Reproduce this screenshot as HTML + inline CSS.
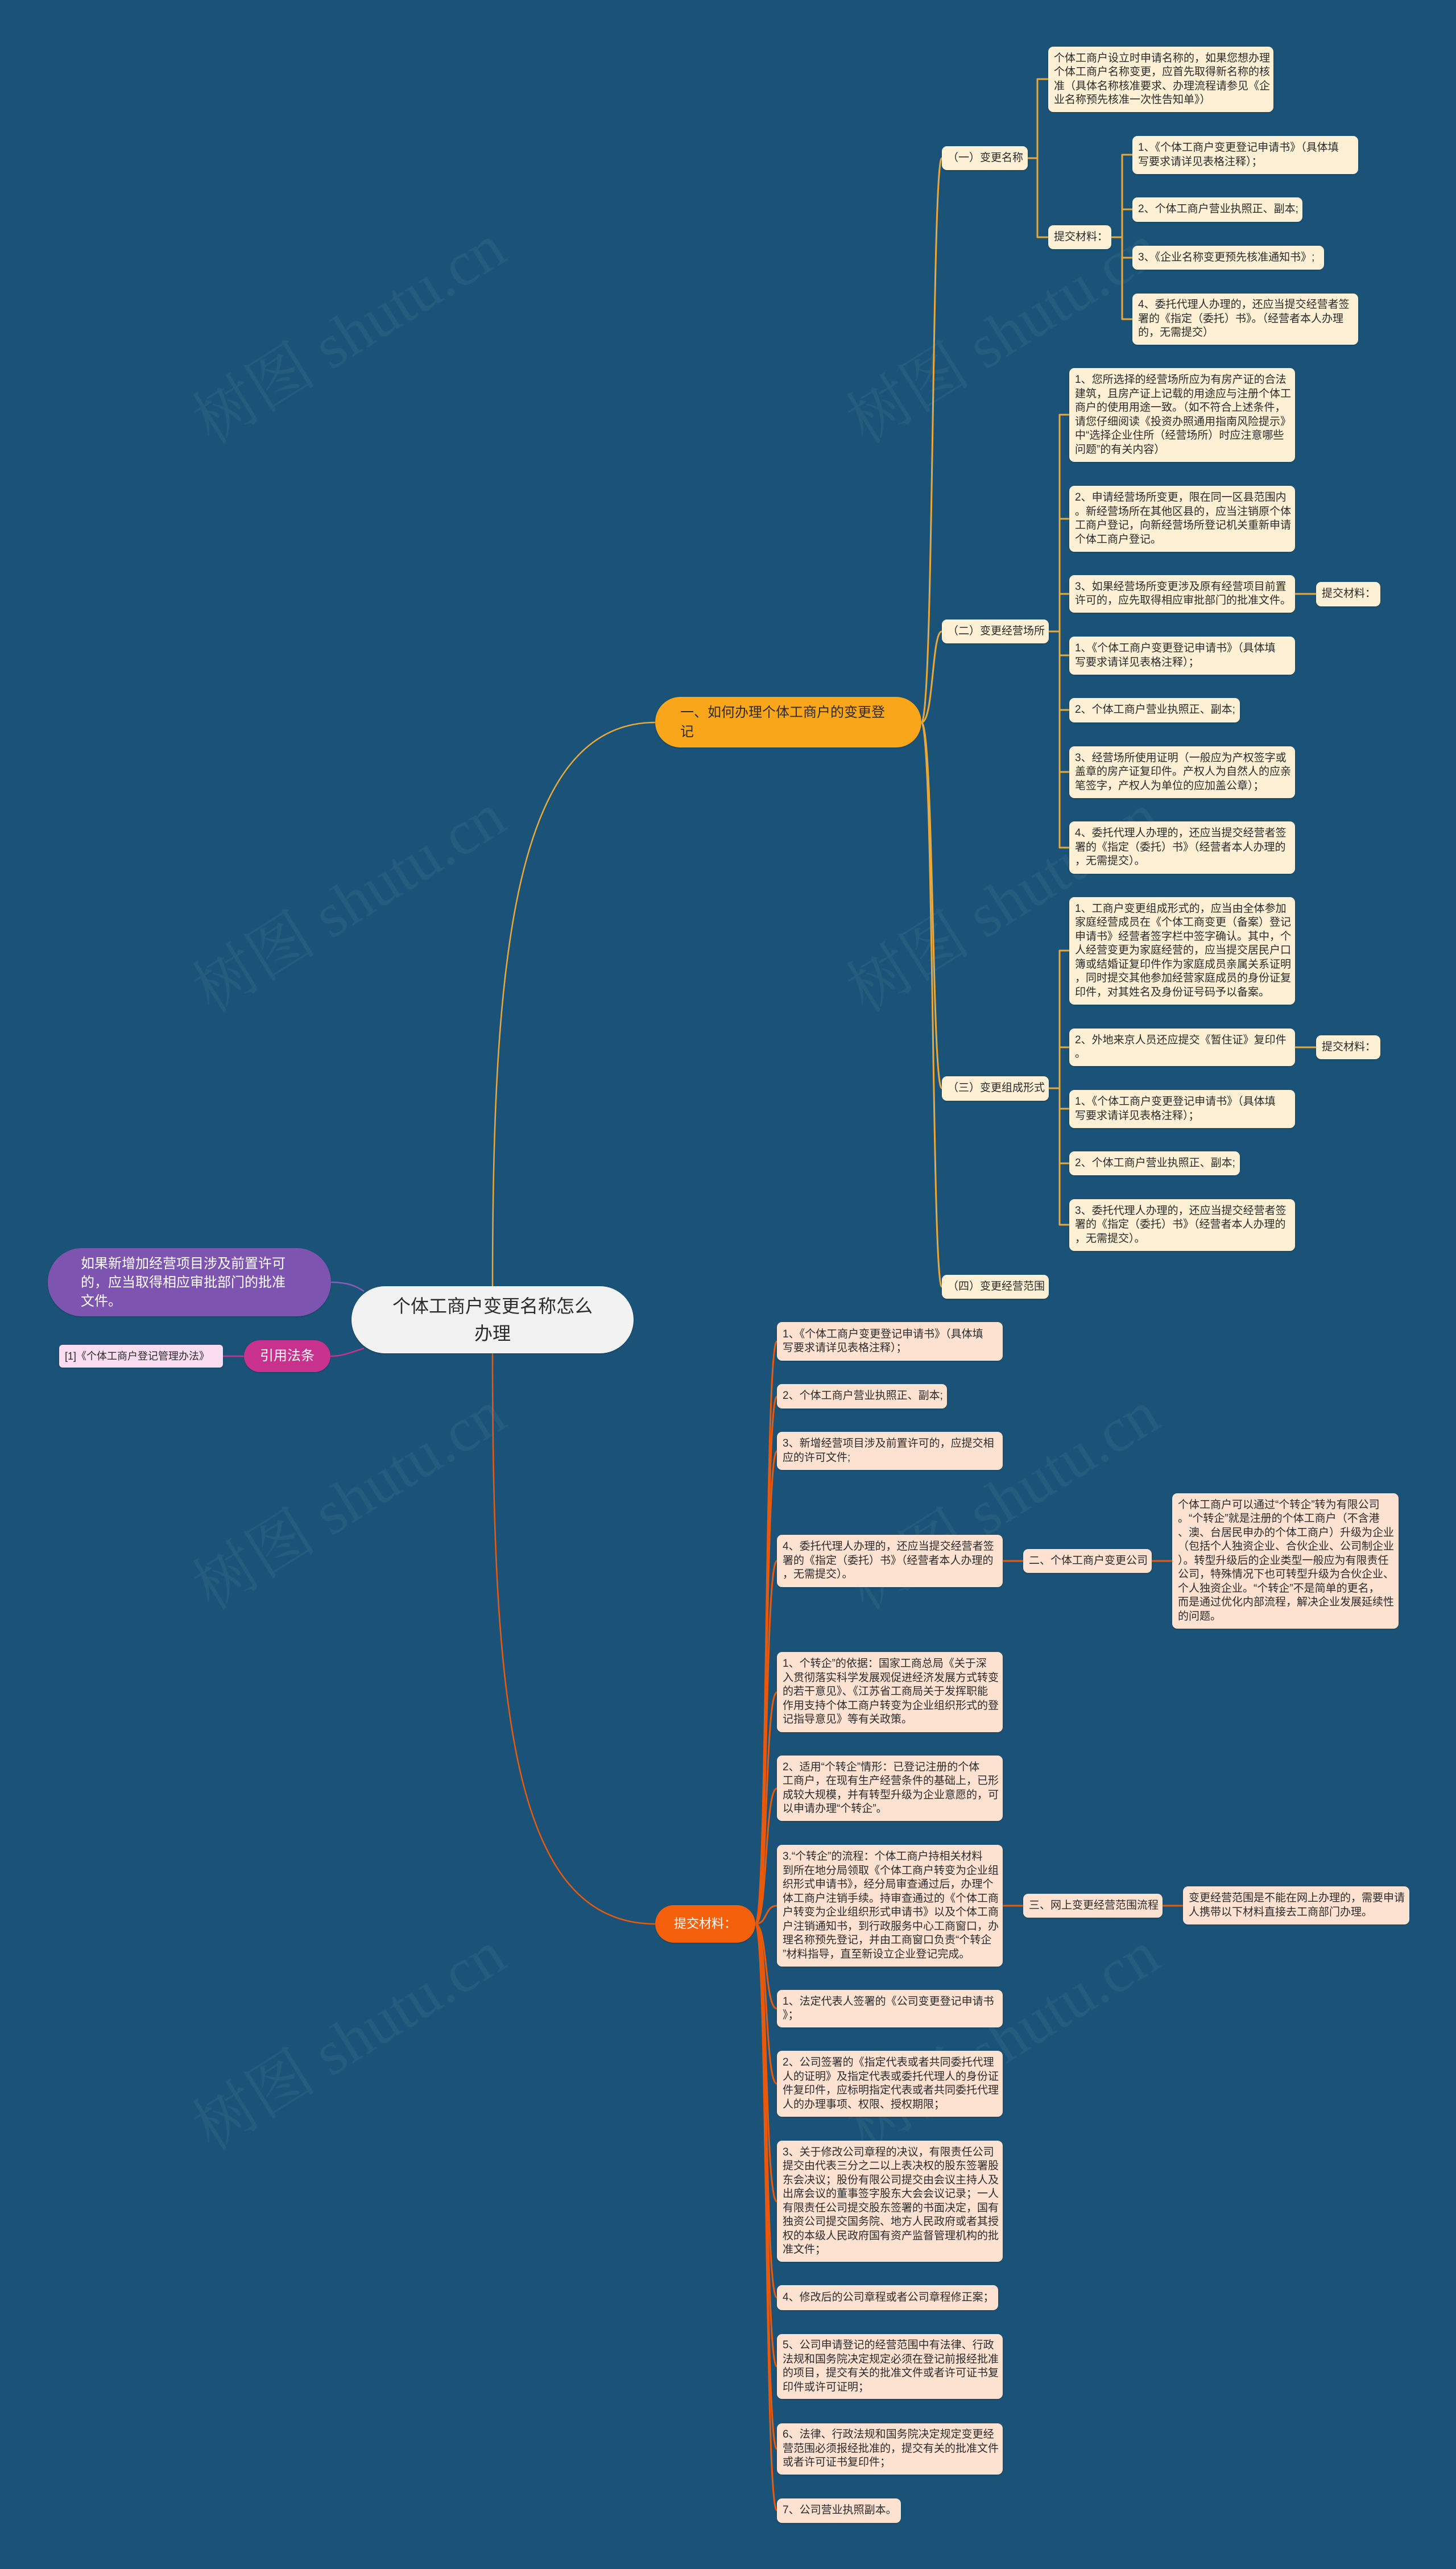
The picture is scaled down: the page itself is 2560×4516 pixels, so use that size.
<!DOCTYPE html>
<html><head><meta charset="utf-8">
<style>
html,body{margin:0;padding:0}
body{width:2560px;height:4516px;background:#1a5377;position:relative;overflow:hidden;font-family:"Liberation Sans","Noto Sans CJK SC",sans-serif;color:#2b2b2b}
.n{position:absolute;box-sizing:border-box;display:flex;align-items:center;border-radius:9px;font-size:19px;line-height:24.5px;padding:0 10px;white-space:nowrap;box-shadow:0 1px 2px rgba(0,0,0,.25)}
.c{background:#fdf0d4}
.p{background:#fde2d2}
.wm{position:absolute;font-family:"Liberation Serif","Noto Serif CJK SC",serif;font-size:110px;color:rgba(255,255,255,.05);transform:rotate(-32deg);white-space:nowrap}
svg{position:absolute;left:0;top:0}
</style></head><body>
<div class="wm" style="left:300px;top:500px">树图 shutu.cn</div>
<div class="wm" style="left:1450px;top:500px">树图 shutu.cn</div>
<div class="wm" style="left:300px;top:1500px">树图 shutu.cn</div>
<div class="wm" style="left:1450px;top:1500px">树图 shutu.cn</div>
<div class="wm" style="left:300px;top:2550px">树图 shutu.cn</div>
<div class="wm" style="left:1450px;top:2550px">树图 shutu.cn</div>
<div class="wm" style="left:300px;top:3500px">树图 shutu.cn</div>
<div class="wm" style="left:1450px;top:3500px">树图 shutu.cn</div>

<svg width="2560" height="4516" fill="none" stroke-linejoin="round">
<path d="M866 2262 C 866 1700, 900 1270, 1152 1270" stroke="#e9a93a" stroke-width="2.5"/>
<path d="M866 2379 C 866 3000, 900 3382, 1152 3382" stroke="#e8590c" stroke-width="2.5"/>
<path d="M640 2270 C 620 2256, 600 2254, 580 2254" stroke="#8a5bb8" stroke-width="2.5"/>
<path d="M640 2370 C 610 2380, 600 2384, 581 2384" stroke="#c9318f" stroke-width="2.5"/>
<path d="M429 2384 H392" stroke="#c9318f" stroke-width="2.5"/>
<g stroke="#e9a93a" stroke-width="3">
<path d="M1620 1270 C 1642 1270, 1638 278, 1656 278"/>
<path d="M1620 1270 C 1642 1270, 1638 1110, 1656 1110"/>
<path d="M1620 1270 C 1642 1270, 1638 1913, 1656 1913"/>
<path d="M1620 1270 C 1642 1270, 1638 2262, 1656 2262"/>
<path d="M1807 278 H1824 V139 H1843"/>
<path d="M1807 278 H1824 V417 H1843"/>
<path d="M1954 417 H1973 V272 H1991"/>
<path d="M1954 417 H1973 V368 H1991"/>
<path d="M1954 417 H1973 V453 H1991"/>
<path d="M1954 417 H1973 V561 H1991"/>
<path d="M1844 1110 H1863 V729 H1880"/>
<path d="M1844 1110 H1863 V912 H1880"/>
<path d="M1844 1110 H1863 V1044 H1880"/>
<path d="M1844 1110 H1863 V1152 H1880"/>
<path d="M1844 1110 H1863 V1248 H1880"/>
<path d="M1844 1110 H1863 V1357 H1880"/>
<path d="M1844 1110 H1863 V1490 H1880"/>
<path d="M2277 1044 H2314"/>
<path d="M1844 1913 H1863 V1671 H1880"/>
<path d="M1844 1913 H1863 V1841 H1880"/>
<path d="M1844 1913 H1863 V1949 H1880"/>
<path d="M1844 1913 H1863 V2045 H1880"/>
<path d="M1844 1913 H1863 V2153 H1880"/>
<path d="M2277 1841 H2314"/>
</g>
<g stroke="#e8590c" stroke-width="3">
<path d="M1328 3382 C 1350 3382, 1344 2358, 1366 2358"/>
<path d="M1328 3382 C 1350 3382, 1344 2455, 1366 2455"/>
<path d="M1328 3382 C 1350 3382, 1344 2551, 1366 2551"/>
<path d="M1328 3382 C 1350 3382, 1344 2744, 1366 2744"/>
<path d="M1328 3382 C 1350 3382, 1344 2975, 1366 2975"/>
<path d="M1328 3382 C 1350 3382, 1344 3144, 1366 3144"/>
<path d="M1328 3382 C 1350 3382, 1344 3350, 1366 3350"/>
<path d="M1328 3382 C 1350 3382, 1344 3531, 1366 3531"/>
<path d="M1328 3382 C 1350 3382, 1344 3663, 1366 3663"/>
<path d="M1328 3382 C 1350 3382, 1344 3870, 1366 3870"/>
<path d="M1328 3382 C 1350 3382, 1344 4039, 1366 4039"/>
<path d="M1328 3382 C 1350 3382, 1344 4160, 1366 4160"/>
<path d="M1328 3382 C 1350 3382, 1344 4305, 1366 4305"/>
<path d="M1328 3382 C 1350 3382, 1344 4413, 1366 4413"/>
<path d="M1763 2744 H1799"/>
<path d="M2025 2744 H2061"/>
<path d="M1763 3350 H1799"/>
<path d="M2044 3350 H2080"/>
</g>
</svg>

<div class="n" style="left:618px;top:2261px;width:496px;height:118px;background:#f2f2f2;border-radius:60px;justify-content:center;text-align:center;font-size:32px;line-height:48px;padding:0 20px">个体工商户变更名称怎么<br>办理</div>
<div class="n" style="left:84px;top:2194px;width:498px;height:120px;background:#7d55b0;color:#fff;border-radius:60px;font-size:24px;line-height:33px;padding-left:58px">如果新增加经营项目涉及前置许可<br>的，应当取得相应审批部门的批准<br>文件。</div>
<div class="n" style="left:429px;top:2356px;width:152px;height:56px;background:#c9318f;color:#fff;border-radius:28px;font-size:24px;justify-content:center">引用法条</div>
<div class="n" style="left:104px;top:2364px;width:288px;height:40px;background:#f9dcef;font-size:18px;border-radius:6px">[1]《个体工商户登记管理办法》</div>

<div class="n" style="left:1152px;top:1225px;width:468px;height:89px;background:#f9a61b;border-radius:45px;font-size:24px;line-height:34px;padding-left:44px">一、如何办理个体工商户的变更登<br>记</div>
<div class="n c" style="left:1656px;top:257px;width:151px;height:42px">（一）变更名称</div>
<div class="n c" style="left:1843px;top:82px;width:396px;height:115px">个体工商户设立时申请名称的，如果您想办理<br>个体工商户名称变更，应首先取得新名称的核<br>准（具体名称核准要求、办理流程请参见《企<br>业名称预先核准一次性告知单》）</div>
<div class="n c" style="left:1843px;top:396px;width:111px;height:42px">提交材料：</div>
<div class="n c" style="left:1991px;top:239px;width:397px;height:67px">1、《个体工商户变更登记申请书》（具体填<br>写要求请详见表格注释）；</div>
<div class="n c" style="left:1991px;top:347px;width:299px;height:43px">2、个体工商户营业执照正、副本;</div>
<div class="n c" style="left:1991px;top:432px;width:337px;height:42px">3、《企业名称变更预先核准通知书》;</div>
<div class="n c" style="left:1991px;top:516px;width:397px;height:90px">4、委托代理人办理的，还应当提交经营者签<br>署的《指定（委托）书》。（经营者本人办理<br>的，无需提交）</div>

<div class="n c" style="left:1656px;top:1089px;width:188px;height:42px">（二）变更经营场所</div>
<div class="n c" style="left:1880px;top:647px;width:397px;height:165px">1、您所选择的经营场所应为有房产证的合法<br>建筑，且房产证上记载的用途应与注册个体工<br>商户的使用用途一致。（如不符合上述条件，<br>请您仔细阅读《投资办照通用指南风险提示》<br>中“选择企业住所（经营场所）时应注意哪些<br>问题”的有关内容）</div>
<div class="n c" style="left:1880px;top:854px;width:397px;height:116px">2、申请经营场所变更，限在同一区县范围内<br>。新经营场所在其他区县的，应当注销原个体<br>工商户登记，向新经营场所登记机关重新申请<br>个体工商户登记。</div>
<div class="n c" style="left:1880px;top:1011px;width:397px;height:66px">3、如果经营场所变更涉及原有经营项目前置<br>许可的，应先取得相应审批部门的批准文件。</div>
<div class="n c" style="left:2314px;top:1023px;width:113px;height:43px">提交材料：</div>
<div class="n c" style="left:1880px;top:1119px;width:397px;height:67px">1、《个体工商户变更登记申请书》（具体填<br>写要求请详见表格注释）；</div>
<div class="n c" style="left:1880px;top:1227px;width:300px;height:43px">2、个体工商户营业执照正、副本;</div>
<div class="n c" style="left:1880px;top:1312px;width:397px;height:91px">3、经营场所使用证明（一般应为产权签字或<br>盖章的房产证复印件。产权人为自然人的应亲<br>笔签字，产权人为单位的应加盖公章）；</div>
<div class="n c" style="left:1880px;top:1444px;width:397px;height:92px">4、委托代理人办理的，还应当提交经营者签<br>署的《指定（委托）书》（经营者本人办理的<br>，无需提交）。</div>

<div class="n c" style="left:1656px;top:1892px;width:188px;height:43px">（三）变更组成形式</div>
<div class="n c" style="left:1880px;top:1577px;width:397px;height:189px">1、工商户变更组成形式的，应当由全体参加<br>家庭经营成员在《个体工商变更（备案）登记<br>申请书》经营者签字栏中签字确认。其中，个<br>人经营变更为家庭经营的，应当提交居民户口<br>簿或结婚证复印件作为家庭成员亲属关系证明<br>，同时提交其他参加经营家庭成员的身份证复<br>印件，对其姓名及身份证号码予以备案。</div>
<div class="n c" style="left:1880px;top:1808px;width:397px;height:66px">2、外地来京人员还应提交《暂住证》复印件<br>。</div>
<div class="n c" style="left:2314px;top:1820px;width:113px;height:42px">提交材料：</div>
<div class="n c" style="left:1880px;top:1916px;width:397px;height:67px">1、《个体工商户变更登记申请书》（具体填<br>写要求请详见表格注释）；</div>
<div class="n c" style="left:1880px;top:2024px;width:300px;height:42px">2、个体工商户营业执照正、副本;</div>
<div class="n c" style="left:1880px;top:2108px;width:397px;height:91px">3、委托代理人办理的，还应当提交经营者签<br>署的《指定（委托）书》（经营者本人办理的<br>，无需提交）。</div>
<div class="n c" style="left:1656px;top:2241px;width:188px;height:42px">（四）变更经营范围</div>

<div class="n" style="left:1152px;top:3349px;width:176px;height:66px;background:#f4600c;color:#fff;border-radius:33px;font-size:22px;justify-content:center">提交材料：</div>
<div class="n p" style="left:1366px;top:2324px;width:397px;height:68px">1、《个体工商户变更登记申请书》（具体填<br>写要求请详见表格注释）；</div>
<div class="n p" style="left:1366px;top:2433px;width:299px;height:43px">2、个体工商户营业执照正、副本;</div>
<div class="n p" style="left:1366px;top:2517px;width:397px;height:67px">3、新增经营项目涉及前置许可的，应提交相<br>应的许可文件;</div>
<div class="n p" style="left:1366px;top:2698px;width:397px;height:92px">4、委托代理人办理的，还应当提交经营者签<br>署的《指定（委托）书》（经营者本人办理的<br>，无需提交）。</div>
<div class="n p" style="left:1799px;top:2723px;width:226px;height:42px">二、个体工商户变更公司</div>
<div class="n p" style="left:2061px;top:2625px;width:398px;height:238px">个体工商户可以通过“个转企”转为有限公司<br>。“个转企”就是注册的个体工商户（不含港<br>、澳、台居民申办的个体工商户）升级为企业<br>（包括个人独资企业、合伙企业、公司制企业<br>）。转型升级后的企业类型一般应为有限责任<br>公司，特殊情况下也可转型升级为合伙企业、<br>个人独资企业。“个转企”不是简单的更名，<br>而是通过优化内部流程，解决企业发展延续性<br>的问题。</div>
<div class="n p" style="left:1366px;top:2904px;width:397px;height:141px">1、个转企”的依据：国家工商总局《关于深<br>入贯彻落实科学发展观促进经济发展方式转变<br>的若干意见》、《江苏省工商局关于发挥职能<br>作用支持个体工商户转变为企业组织形式的登<br>记指导意见》等有关政策。</div>
<div class="n p" style="left:1366px;top:3086px;width:397px;height:115px">2、适用“个转企”情形：已登记注册的个体<br>工商户，在现有生产经营条件的基础上，已形<br>成较大规模，并有转型升级为企业意愿的，可<br>以申请办理“个转企”。</div>
<div class="n p" style="left:1366px;top:3243px;width:397px;height:214px">3.“个转企”的流程：个体工商户持相关材料<br>到所在地分局领取《个体工商户转变为企业组<br>织形式申请书》，经分局审查通过后，办理个<br>体工商户注销手续。持审查通过的《个体工商<br>户转变为企业组织形式申请书》以及个体工商<br>户注销通知书，到行政服务中心工商窗口，办<br>理名称预先登记，并由工商窗口负责“个转企<br>”材料指导，直至新设立企业登记完成。</div>
<div class="n p" style="left:1799px;top:3329px;width:245px;height:42px">三、网上变更经营范围流程</div>
<div class="n p" style="left:2080px;top:3316px;width:398px;height:67px">变更经营范围是不能在网上办理的，需要申请<br>人携带以下材料直接去工商部门办理。</div>
<div class="n p" style="left:1366px;top:3498px;width:397px;height:66px">1、法定代表人签署的《公司变更登记申请书<br>》；</div>
<div class="n p" style="left:1366px;top:3605px;width:397px;height:116px">2、公司签署的《指定代表或者共同委托代理<br>人的证明》及指定代表或委托代理人的身份证<br>件复印件，应标明指定代表或者共同委托代理<br>人的办理事项、权限、授权期限；</div>
<div class="n p" style="left:1366px;top:3763px;width:397px;height:213px">3、关于修改公司章程的决议，有限责任公司<br>提交由代表三分之二以上表决权的股东签署股<br>东会决议；股份有限公司提交由会议主持人及<br>出席会议的董事签字股东大会会议记录；一人<br>有限责任公司提交股东签署的书面决定，国有<br>独资公司提交国务院、地方人民政府或者其授<br>权的本级人民政府国有资产监督管理机构的批<br>准文件；</div>
<div class="n p" style="left:1366px;top:4017px;width:389px;height:44px">4、修改后的公司章程或者公司章程修正案；</div>
<div class="n p" style="left:1366px;top:4103px;width:397px;height:114px">5、公司申请登记的经营范围中有法律、行政<br>法规和国务院决定规定必须在登记前报经批准<br>的项目，提交有关的批准文件或者许可证书复<br>印件或许可证明；</div>
<div class="n p" style="left:1366px;top:4260px;width:397px;height:90px">6、法律、行政法规和国务院决定规定变更经<br>营范围必须报经批准的，提交有关的批准文件<br>或者许可证书复印件；</div>
<div class="n p" style="left:1366px;top:4392px;width:218px;height:43px">7、公司营业执照副本。</div>
</body></html>
